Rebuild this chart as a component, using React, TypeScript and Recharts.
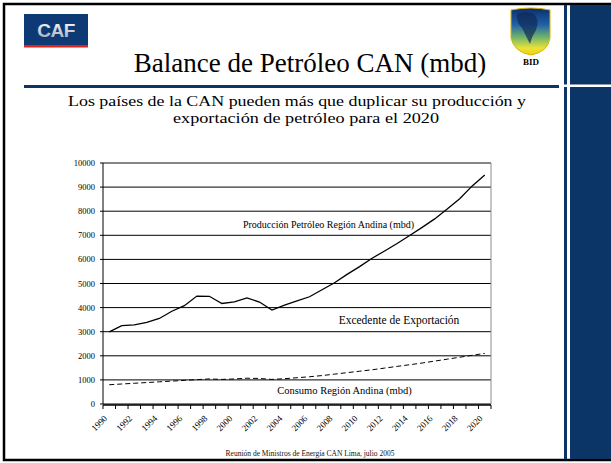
import React from 'react';
import { LineChart, Line, XAxis, YAxis, CartesianGrid, ReferenceLine } from 'recharts';

const years = [
  1990, 1991, 1992, 1993, 1994, 1995, 1996, 1997, 1998, 1999, 2000,
  2001, 2002, 2003, 2004, 2005, 2006, 2007, 2008, 2009, 2010,
  2011, 2012, 2013, 2014, 2015, 2016, 2017, 2018, 2019, 2020,
];

// Producción Petróleo Región Andina (mbd)
const produccion = [
  2990, 3250, 3280, 3390, 3550, 3850, 4080, 4480, 4470, 4170, 4240,
  4400, 4230, 3900, 4100, 4280, 4450, 4740, 5030, 5380, 5700,
  6050, 6350, 6660, 6990, 7330, 7680, 8090, 8520, 9050, 9500,
];

// Consumo Región Andina (mbd)
const consumo = [
  800, 830, 860, 890, 920, 950, 980, 1010, 1040, 1020, 1040,
  1070, 1060, 1020, 1050, 1090, 1130, 1180, 1240, 1300, 1360,
  1420, 1490, 1560, 1630, 1700, 1780, 1860, 1940, 2020, 2100,
];

const yTicks = [0, 1000, 2000, 3000, 4000, 5000, 6000, 7000, 8000, 9000, 10000];
const yearLabels = [1990, 1992, 1994, 1996, 1998, 2000, 2002, 2004, 2006, 2008, 2010, 2012, 2014, 2016, 2018, 2020];

const rows = years.map((year, i) => ({ year, produccion: produccion[i], consumo: consumo[i] }));
// tick marks sit between the categories
const limites = [...years.map((y) => y - 0.5), years[years.length - 1] + 0.5];
const dominio = [limites[0], limites[limites.length - 1]];

const NAVY = '#0c3567';
const SERIF = '"Liberation Serif", "Times New Roman", serif';

const YearTick = (props: any) => {
  const { x, y, payload } = props;
  const ax = x - 1.5;
  const ay = y + 15;
  return (
    <text x={ax} y={ay} transform={`rotate(-45 ${ax} ${ay})`} textAnchor="end" fontSize={9} fontFamily={SERIF} fill="#000">
      {payload.value}
    </text>
  );
};

const Overlay = () => (
  <svg width={611} height={463} style={{ position: 'absolute', left: 0, top: 0, pointerEvents: 'none' }} fontFamily={SERIF}>
    <defs>
      <linearGradient id="bidg" x1="0" y1="0" x2="0" y2="1">
        <stop offset="0%" stopColor="#0c2f6b" />
        <stop offset="35%" stopColor="#1f5fa8" />
        <stop offset="62%" stopColor="#6fb36a" />
        <stop offset="85%" stopColor="#e8e23a" />
        <stop offset="100%" stopColor="#f4d20c" />
      </linearGradient>
      <linearGradient id="cafg" x1="0" y1="0" x2="0" y2="1">
        <stop offset="0%" stopColor="#ffffff" />
        <stop offset="100%" stopColor="#9aa6b8" />
      </linearGradient>
    </defs>

    {/* slide frame */}
    <rect x={4} y={4} width={640} height={456} fill="none" stroke="#000" strokeWidth={2.5} />

    {/* right-hand panel */}
    <rect x={570} y={5} width={41} height={454} fill={NAVY} />
    <rect x={564} y={5} width={3} height={454} fill={NAVY} />
    <rect x={562} y={84.5} width={49} height={2.5} fill="#fff" />

    {/* header rule */}
    <rect x={24} y={85} width={535} height={3} fill={NAVY} />

    {/* CAF logo */}
    <rect x={24} y={14} width={64} height={31} fill="#0d3a74" />
    <rect x={24} y={45} width={64} height={2.5} fill="#e2231a" />
    <text x={56} y={37} textAnchor="middle" fontFamily='"Liberation Sans", Arial, sans-serif' fontWeight={700} fontSize={19} letterSpacing={-0.5} fill="url(#cafg)">
      CAF
    </text>

    {/* BID logo */}
    <path d="M511,10 Q531,6 550,10 L550,38 Q548,52 531,55 Q514,52 511,38 Z" fill="url(#bidg)" stroke="#d9b400" strokeWidth={1} />
    <path d="M517,14 Q526,10 534,14 Q540,20 536,30 Q532,36 530,44 Q526,36 522,28 Q516,22 517,14 Z" fill="#102a55" opacity={0.7} />
    <text x={531} y={65} textAnchor="middle" fontSize={9} fontWeight={700} fill="#000">BID</text>

    {/* titles */}
    <text x={310} y={72} textAnchor="middle" fontSize={27} fill="#000">Balance de Petróleo CAN (mbd)</text>
    <text x={297} y={106} textAnchor="middle" fontSize={15.3} textLength={458} lengthAdjust="spacingAndGlyphs" fill="#000">
      Los países de la CAN pueden más que duplicar su producción y
    </text>
    <text x={306} y={123} textAnchor="middle" fontSize={15.3} textLength={266} lengthAdjust="spacingAndGlyphs" fill="#000">
      exportación de petróleo para el 2020
    </text>

    {/* series annotations */}
    <text x={328.5} y={227.5} textAnchor="middle" fontSize={10} fill="#000">Producción Petróleo Región Andina (mbd)</text>
    <text x={399} y={324} textAnchor="middle" fontSize={11.5} fill="#000">Excedente de Exportación</text>
    <text x={344.5} y={394} textAnchor="middle" fontSize={10.5} fill="#000">Consumo Región Andina (mbd)</text>

    {/* footer */}
    <text x={310} y={456} textAnchor="middle" fontSize={7.5} fill="#111">Reunión de Ministros de Energía CAN Lima, julio 2005</text>
  </svg>
);

export default function App() {
  return (
    <div style={{ position: 'absolute', left: 0, top: 0, width: 611, height: 463, background: '#fff', overflow: 'hidden', fontFamily: SERIF }}>
      <div style={{ position: 'absolute', left: 0, top: 0 }}>
        <LineChart width={611} height={463} data={rows} margin={{ top: 163, right: 120, bottom: 57, left: 0 }}>
          <CartesianGrid xAxisId="lbl" vertical={false} stroke="#000" strokeWidth={1} />
          <XAxis
            xAxisId="lim"
            dataKey="year"
            type="number"
            domain={dominio}
            ticks={limites}
            interval={0}
            height={1}
            tick={() => <g />}
            tickSize={4}
            tickLine={{ stroke: '#000' }}
            axisLine={{ stroke: '#000', strokeWidth: 1.5 }}
            allowDataOverflow
          />
          <XAxis
            xAxisId="lbl"
            dataKey="year"
            type="number"
            domain={dominio}
            ticks={yearLabels}
            interval={0}
            height={1}
            tick={<YearTick />}
            tickSize={0}
            tickMargin={0}
            tickLine={false}
            axisLine={false}
            allowDataOverflow
          />
          <YAxis
            width={103}
            domain={[0, 10000]}
            ticks={yTicks}
            interval={0}
            tickSize={3}
            tickMargin={5}
            tick={{ fontSize: 8.5, fill: '#000', fontFamily: SERIF }}
            tickLine={{ stroke: '#000' }}
            axisLine={{ stroke: '#000' }}
          />
          <ReferenceLine xAxisId="lbl" y={10000} stroke="#8c8c8c" strokeWidth={1} />
          <ReferenceLine xAxisId="lbl" x={dominio[1]} stroke="#8c8c8c" strokeWidth={1} />
          <Line xAxisId="lbl" type="linear" dataKey="consumo" stroke="#000" strokeWidth={1} strokeDasharray="5 3" dot={false} isAnimationActive={false} />
          <Line xAxisId="lbl" type="linear" dataKey="produccion" stroke="#000" strokeWidth={1.3} dot={false} isAnimationActive={false} />
        </LineChart>
      </div>
      <Overlay />
    </div>
  );
}
